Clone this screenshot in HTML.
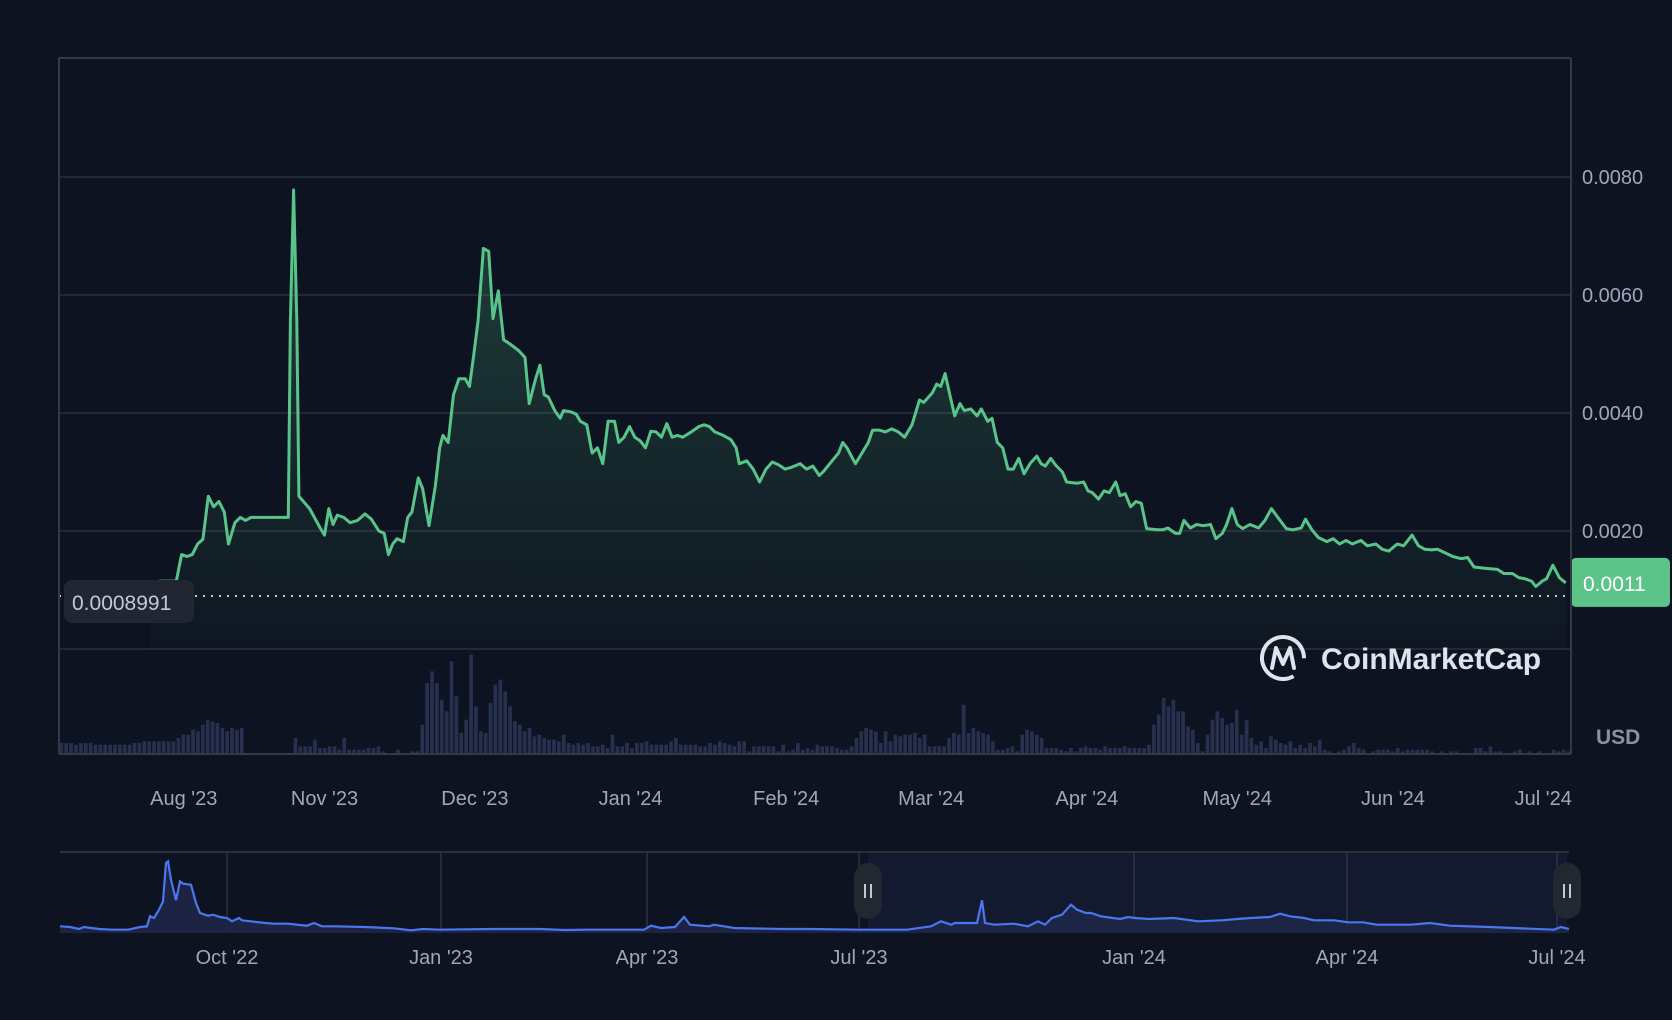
<!DOCTYPE html>
<html><head><meta charset="utf-8">
<style>
html,body{margin:0;padding:0;background:#0d1320;}
svg{display:block;font-family:"Liberation Sans",sans-serif;}
</style></head>
<body>
<svg id="chart" width="1672" height="1020" viewBox="0 0 1672 1020" xmlns="http://www.w3.org/2000/svg">
<defs>
<linearGradient id="areaGrad" x1="0" y1="0" x2="0" y2="1">
<stop offset="0" stop-color="#58c48a" stop-opacity="0.25"/>
<stop offset="1" stop-color="#58c48a" stop-opacity="0.02"/>
</linearGradient>
</defs>
<rect x="0" y="0" width="1672" height="1020" fill="#0d1320"/>
<g id="grid"></g>
<g id="volume"></g>
<g id="price"></g>
<g id="frame"></g>
<g id="yaxis"></g>
<g id="xaxis"></g>
<g id="nav"></g>
<g>
<circle cx="1283" cy="658" r="21" fill="none" stroke="#dfe3ee" stroke-width="4" stroke-dasharray="110 22" transform="rotate(60 1283 658)"/>
<path d="M1272 668 L1276 648 L1283 664 L1290 648 L1294 668" fill="none" stroke="#dfe3ee" stroke-width="4" stroke-linejoin="round" stroke-linecap="round"/>
<text x="1321" y="669" font-size="30" font-weight="bold" fill="#dfe3ee">CoinMarketCap</text>
</g>
<text x="1596" y="744" font-size="21" font-weight="bold" fill="#8b91a5">USD</text>
</svg>
<script>
const priceT=[140,150,165,170,175,180,185,190,195,200,205,210,214,220,225,230,235,270,272,275,278,280,290,300,304,308,312,316,322,328,335,342,348,355,360,364,368,372,378,382,386,392,396,402,408,412,415,420,425,430,436,440,444,448,453,458,462,467,472,478,486,492,496,502,506,510,514,520,525,528,535,540,544,550,555,560,565,570,576,580,585,590,595,600,605,610,615,620,625,630,635,640,648,655,660,665,670,678,685,690,693,700,706,712,718,724,730,736,742,750,756,762,768,772,780,786,790,794,798,802,808,814,818,824,830,836,842,848,855,862,866,874,878,882,886,890,895,900,904,910,916,920,926,930,935,940,945,950,955,960,966,972,976,980,985,990,996,1000,1010,1016,1020,1024,1030,1035,1040,1046,1050,1055,1060,1065,1070,1075,1085,1090,1095,1102,1106,1110,1116,1122,1128,1135,1140,1146,1150,1155,1160,1165,1172,1180,1186,1192,1198,1206,1212,1220,1224,1230,1236,1244,1250,1256,1262,1268,1276,1282,1290,1296,1302,1310,1316,1324,1330,1336,1342,1348,1356,1362,1370,1376,1382,1392,1404,1410,1418,1424,1430,1436,1440,1446,1450,1456,1462,1468];
const priceV=[11.0,11.5,11.5,16.0,15.7,16.0,17.8,18.6,25.9,24.1,25.0,23.2,17.8,21.4,22.3,21.8,22.3,22.3,55.7,77.8,55.7,25.9,23.8,20.5,19.3,23.8,21.1,22.7,22.3,21.4,21.8,22.9,22.0,20.0,19.6,16.0,17.8,18.7,18.2,22.3,23.2,29.0,27.2,20.9,27.7,34.1,36.2,35.0,43.1,45.8,45.8,44.5,49.9,55.7,67.9,67.4,56.0,60.7,52.4,51.7,50.6,49.4,41.6,45.8,48.1,43.1,42.7,40.4,39.1,40.4,40.2,39.8,38.6,38.0,33.2,34.1,31.4,38.6,38.6,35.0,35.9,37.7,35.9,35.3,34.1,36.9,36.8,35.9,38.2,35.9,36.2,35.9,36.8,37.7,38.0,37.7,36.8,36.2,35.5,34.1,31.4,31.9,30.5,28.3,30.5,31.7,31.2,30.5,30.8,31.4,30.5,31.0,29.4,30.1,31.9,33.2,35.0,34.1,32.7,31.4,33.2,35.0,37.1,37.1,36.8,37.3,36.8,35.9,38.0,42.2,41.8,43.4,44.9,44.5,46.7,43.4,39.5,41.6,40.4,40.7,39.5,40.7,38.6,39.1,35.0,34.1,30.5,30.5,32.3,29.7,31.5,32.7,31.4,31.0,32.3,31.1,30.0,28.3,28.1,28.3,26.8,26.5,25.4,26.8,26.5,28.3,26.0,26.3,24.1,25.0,24.7,20.4,20.2,20.2,20.5,19.6,19.6,21.8,20.5,21.1,20.9,21.1,18.7,19.6,21.1,23.8,21.1,20.4,21.1,20.5,21.8,23.8,22.3,20.4,20.2,20.5,22.0,20.2,18.9,18.2,18.7,17.8,18.4,17.8,18.4,17.5,17.8,16.9,16.6,17.8,17.5,19.3,17.5,16.9,16.8,16.9,16.2,15.7,15.3,15.5,13.9,13.7,13.5,12.8,12.8,12.1,11.9,11.5,10.6,11.5,11.9,14.2,12.1,11.2];
const volumeV=[30,30,30,25,30,30,30,25,25,25,25,25,25,25,25,30,30,35,35,35,35,35,35,35,45,55,55,70,65,85,100,95,90,75,65,75,70,75,0,0,0,0,0,0,0,0,0,0,45,20,20,20,40,15,15,20,20,10,45,10,10,10,10,15,15,20,5,0,0,10,0,0,5,5,85,210,245,210,160,125,275,170,60,100,295,140,65,60,150,205,220,185,140,95,85,65,75,50,55,45,40,40,35,55,30,25,30,25,30,20,20,25,15,55,20,20,30,15,30,30,35,25,25,25,25,35,45,25,25,25,25,20,20,30,25,35,30,25,20,35,35,5,20,20,20,20,20,5,25,5,10,30,10,15,10,25,20,20,20,15,10,10,20,45,65,75,70,65,30,65,35,55,50,55,55,60,45,55,20,20,20,20,45,60,55,145,60,75,65,60,55,35,10,10,15,20,5,55,70,65,55,45,15,15,15,10,5,15,5,15,20,15,15,10,20,15,15,15,20,15,15,15,15,25,85,115,165,140,160,125,125,80,70,30,5,55,100,125,105,85,90,130,55,100,45,25,35,15,50,40,30,25,35,15,25,15,30,20,40,10,5,0,5,10,20,30,15,10,0,5,10,10,10,5,15,5,10,10,10,10,10,5,0,5,0,5,5,0,0,0,15,15,5,20,5,5,0,0,5,10,0,5,0,5,0,0,10,5,10,5];
const navT=[60,70,79,84,99,113,128,140,147,150,154,159,163,166,168,171,176,180,183,191,196,200,208,213,220,227,232,239,242,259,273,288,307,314,322,336,365,394,411,423,440,491,540,564,588,644,651,661,675,684,690,709,714,734,782,810,858,907,931,941,951,955,977,982,985,994,1014,1028,1038,1045,1052,1062,1071,1077,1086,1091,1101,1120,1128,1135,1149,1174,1198,1222,1237,1251,1270,1280,1290,1304,1314,1334,1348,1363,1377,1411,1430,1450,1489,1513,1554,1561,1569];
const navV=[20,18,12,18,12,10,10,18,20,50,45,70,95,210,215,160,98,155,148,145,90,60,52,55,48,45,35,45,38,32,28,28,22,30,20,20,18,14,8,12,10,12,12,9,10,10,22,15,18,48,25,20,25,15,12,12,10,10,20,35,25,30,30,98,30,25,28,20,35,25,45,55,85,70,60,60,50,42,48,45,42,45,35,38,42,45,48,58,50,45,38,38,32,32,25,25,30,22,18,15,10,18,12];
const yTicks=[0,20,40,60,80];
const yTickLabels=["0","0.0020","0.0040","0.0060","0.0080"];
const xTickT=[172,304,445,591,737,873,1019,1160,1306,1447];
const xTickLabels=["Aug '23","Nov '23","Dec '23","Jan '24","Feb '24","Mar '24","Apr '24","May '24","Jun '24","Jul '24"];
const navTickT=[227,441,647,859,1134,1347,1557];
const navTickLabels=["Oct '22","Jan '23","Apr '23","Jul '23","Jan '24","Apr '24","Jul '24"];
const refPrice=8.991, lastPriceLabel="0.0011", refLabel="0.0008991";

const NS="http://www.w3.org/2000/svg";
function mk(tag,attrs,parent){const e=document.createElementNS(NS,tag);for(const k in attrs)e.setAttribute(k,attrs[k]);parent.appendChild(e);return e;}
const L=59,R=1571,T=58,B=754;
const xS=t=>L+(t-55)/(1473-55)*(R-L);
const yS=v=>649-v*(649-177)/80;
const g=document.getElementById('grid');
yTicks.forEach((v,i)=>{const l=mk('line',{x1:L,x2:R,y1:yS(v),y2:yS(v),stroke:'#2a2f3a','stroke-width':1.5},g);

});
const ya=document.getElementById('yaxis');
yTicks.forEach((v,i)=>{if(v===0)return;const t=mk('text',{x:1582,y:yS(v)+7,'font-size':20,fill:'#a1a7bb'},ya);t.textContent=yTickLabels[i];

});
// volume
const vg=document.getElementById('volume');
const vw=(R-L)/volumeV.length;
volumeV.forEach((v,i)=>{if(v<=0)return;const h=v/3;const r=mk('rect',{x:L+i*vw+0.5,y:753-h,width:Math.max(vw-1.2,1),height:h,fill:'#27304f'},vg);

});
// price
const pg=document.getElementById('price');
let d='';priceT.forEach((t,i)=>{d+=(i?'L':'M')+xS(t).toFixed(1)+' '+yS(priceV[i]).toFixed(1);});
const area=mk('path',{d:d+'L'+xS(priceT[priceT.length-1])+' 649L'+xS(priceT[0])+' 649Z',fill:'url(#areaGrad)'},pg);


const line=mk('path',{d:d,fill:'none',stroke:'#58c48a','stroke-width':3,'stroke-linejoin':'round'},pg);


const ref=mk('line',{x1:L,x2:R,y1:yS(refPrice),y2:yS(refPrice),stroke:'#c9ccd6','stroke-width':2,'stroke-dasharray':'2 6'},pg);


const rb=mk('rect',{x:64,y:yS(refPrice)-16,width:130,height:43,rx:8,fill:'#222633'},pg);


const rt=mk('text',{x:72,y:yS(refPrice)+14,'font-size':21,fill:'#c4c8d4'},pg);rt.textContent=refLabel;


const ly=yS(priceV[priceV.length-1]);
const bb=mk('rect',{x:1571,y:ly-25,width:99,height:49,rx:5,fill:'#5cc489'},pg);


const bt=mk('text',{x:1583,y:ly+8,'font-size':21,fill:'#ffffff'},pg);bt.textContent=lastPriceLabel;


// frame
const fr=document.getElementById('frame');
[[L,T,R,T],[L,T,L,B],[R,T,R,B],[L,B,R,B]].forEach(a=>{const l=mk('line',{x1:a[0],y1:a[1],x2:a[2],y2:a[3],stroke:'#343945','stroke-width':2},fr);

});
// x axis
const xa=document.getElementById('xaxis');
xTickT.forEach((t,i)=>{const e=mk('text',{x:xS(t),y:805,'font-size':20,fill:'#a1a7bb','text-anchor':'middle'},xa);e.textContent=xTickLabels[i];

});
// navigator
const ng=document.getElementById('nav');
const NT=852,NB=933;
const nx=t=>t;const ny=v=>NB-v/3;
const sel=mk('rect',{x:868,y:NT,width:1567-868,height:NB-NT,fill:'#131a30'},ng);


const nt=mk('line',{x1:60,x2:1569,y1:NT,y2:NT,stroke:'#2a2f3a','stroke-width':2},ng);


navTickT.forEach((t,i)=>{const l=mk('line',{x1:t,x2:t,y1:NT,y2:NB,stroke:'#2e333e','stroke-width':1.5},ng);


const e=mk('text',{x:t,y:964,'font-size':20,fill:'#a1a7bb','text-anchor':'middle'},ng);e.textContent=navTickLabels[i];

});
let nd='';navT.forEach((t,i)=>{nd+=(i?'L':'M')+nx(t)+' '+ny(navV[i]).toFixed(1);});
const na=mk('path',{d:nd+'L1569 '+NB+'L60 '+NB+'Z',fill:'#1f2747',opacity:0.9},ng);


const nl=mk('path',{d:nd,fill:'none',stroke:'#4a76f0','stroke-width':2.2},ng);


[868,1567].forEach((x,i)=>{const h=mk('rect',{x:x-14,y:863,width:28,height:56,rx:14,fill:'#23272f'},ng);


const a=mk('line',{x1:x-3,x2:x-3,y1:884,y2:898,stroke:'#c4c8d4','stroke-width':2},ng);


const b=mk('line',{x1:x+3,x2:x+3,y1:884,y2:898,stroke:'#c4c8d4','stroke-width':2},ng);

});
</script>
</body></html>
